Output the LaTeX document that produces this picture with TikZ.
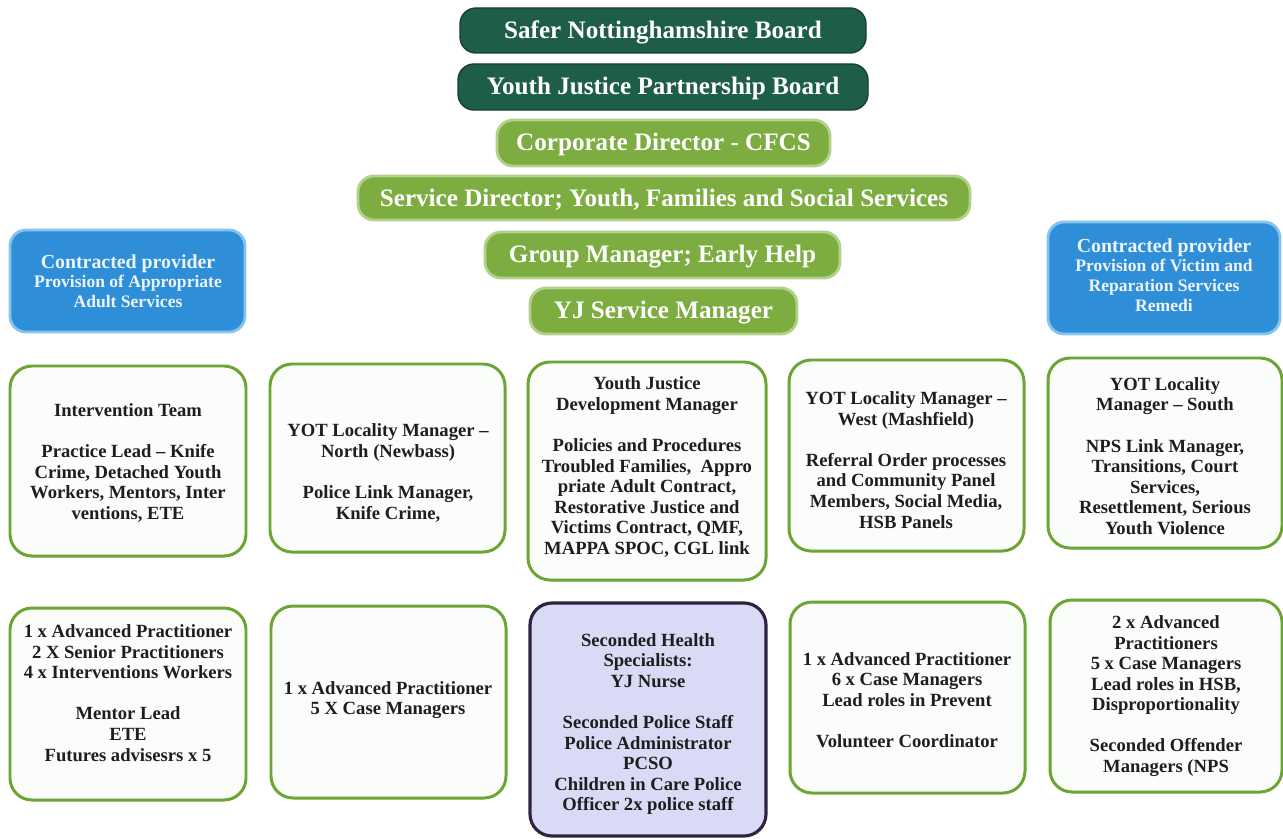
\documentclass[tikz,border=0pt]{standalone}
\usepackage{fontspec}
\setmainfont{Liberation Serif}
\usetikzlibrary{fit}
\definecolor{dkgreen}{HTML}{1E5E46}
\definecolor{dkgreenline}{HTML}{17402F}
\definecolor{ltgreen}{HTML}{7DAD40}
\definecolor{ltgreenhalo}{HTML}{B2D28A}
\definecolor{bluefill}{HTML}{2E8FD8}
\definecolor{bluehalo}{HTML}{86C4EE}
\definecolor{rowline}{HTML}{6BA534}
\definecolor{rowfill}{HTML}{FBFDFA}
\definecolor{lavfill}{HTML}{D9DAF5}
\definecolor{lavline}{HTML}{2E2440}
\definecolor{bluetext}{HTML}{EEF4FF}
\definecolor{bodytext}{HTML}{1E1E1E}
\tikzset{
  topbase/.style={inner sep=0pt, rounded corners=0.32cm},
  darkbox/.style={topbase, fill=dkgreen, draw=dkgreenline, line width=0.8pt},
  lightbox/.style={topbase, fill=ltgreen, draw=ltgreenhalo, line width=1.6pt},
  bluebox/.style={inner sep=0pt, rounded corners=0.32cm, fill=bluefill, draw=bluehalo, line width=1.6pt},
  rowbox/.style={inner sep=0pt, rounded corners=0.44cm, fill=rowfill, draw=rowline, line width=1.7pt},
  lavbox/.style={inner sep=0pt, rounded corners=0.44cm, fill=lavfill, draw=lavline, line width=1.8pt},
  toptxt/.style={inner sep=0pt, text=white, font=\fontsize{14.3}{16}\selectfont\bfseries},
  bluetxt/.style={inner sep=0pt, align=center, text=bluetext, font=\fontsize{10}{11.2}\selectfont\bfseries},
  bodytxt/.style={inner sep=0pt, align=center, text=bodytext, font=\fontsize{10.6}{11.7}\selectfont\bfseries}
}
\newcommand{\bluehead}[1]{{\fontsize{11.3}{11.2}\selectfont #1}}
\begin{document}
\begin{tikzpicture}[x=0.02cm,y=-0.02cm]
\useasboundingbox (0,0) rectangle (1283,838);
\fill[white] (0,0) rectangle (1283,838);

% top stack
\node[darkbox, fit={(460,8) (866,53)}] (b1) {};
\node[toptxt] (t1) at ([yshift=-1pt]b1.center) {Safer Nottinghamshire Board};
\node[darkbox, fit={(458,64) (868,110)}] (b2) {};
\node[toptxt] (t2) at ([yshift=-1pt]b2.center) {Youth Justice Partnership Board};
\node[lightbox, fit={(497,120) (830,166)}] (b3) {};
\node[toptxt] (t3) at ([yshift=-1pt]b3.center) {Corporate Director - CFCS};
\node[lightbox, fit={(358,176) (970,220)}] (b4) {};
\node[toptxt] (t4) at ([yshift=-1pt]b4.center) {Service Director; Youth, Families and Social Services};
\node[lightbox, fit={(485,232) (840,278)}] (b5) {};
\node[toptxt] (t5) at ([yshift=-1pt]b5.center) {Group Manager; Early Help};
\node[lightbox, fit={(530,288) (797,334)}] (b6) {};
\node[toptxt] (t6) at ([yshift=-1pt]b6.center) {YJ Service Manager};

% contracted providers
\node[bluebox, fit={(10,230) (245,332)}] (pl) {};
\node[bluetxt] (tpl) at (128,281) {\bluehead{Contracted provider}\\Provision of Appropriate\\Adult Services};
\node[bluebox, fit={(1048,222) (1280,334)}] (pr) {};
\node[bluetxt] (tpr) at (1164,275) {\bluehead{Contracted provider}\\Provision of Victim and\\Reparation Services\\Remedi};

% row 1
\node[rowbox, fit={(10,366) (246,556)}] (ra) {};
\node[bodytxt] (ta) at (128,463) {Intervention Team\\[11.7pt]Practice Lead -- Knife\\Crime, Detached Youth\\Workers, Mentors, Inter\\ventions, ETE};
\node[rowbox, fit={(270,364) (505,552)}] (rb) {};
\node[bodytxt] (tb) at (388,473) {YOT Locality Manager --\\North (Newbass)\\[11.7pt]Police Link Manager,\\Knife Crime,};
\node[rowbox, fit={(528,362) (766,580)}] (rc) {};
\node[bodytxt] (tc) at (647,467) {Youth Justice\\Development Manager\\[11.7pt]Policies and Procedures\\Troubled Families,\ \ Appro\\priate Adult Contract,\\Restorative Justice and\\Victims Contract, QMF,\\MAPPA SPOC, CGL link};
\node[rowbox, fit={(789,360) (1024,551)}] (rd) {};
\node[bodytxt] (td) at (906,460) {YOT Locality Manager --\\West (Mashfield)\\[11.7pt]Referral Order processes\\and Community Panel\\Members, Social Media,\\HSB Panels};
\node[rowbox, fit={(1048,358) (1282,548)}] (re) {};
\node[bodytxt] (te) at (1165,456) {YOT Locality\\Manager -- South\\[11.7pt]NPS Link Manager,\\Transitions, Court\\Services,\\Resettlement, Serious\\Youth Violence};

% row 2
\node[rowbox, fit={(10,608) (246,800)}] (rf) {};
\node[bodytxt] (tf) at (128,693) {1 x Advanced Practitioner\\2 X Senior Practitioners\\4 x Interventions Workers\\[11.7pt]Mentor Lead\\ETE\\Futures advisesrs x 5};
\node[rowbox, fit={(271,606) (506,798)}] (rg) {};
\node[bodytxt] (tg) at (388,700) {1 x Advanced Practitioner\\5 X Case Managers};
\node[lavbox, fit={(530,603) (766,836)}] (rh) {};
\node[bodytxt] (th) at (648,724) {Seconded Health\\Specialists:\\YJ Nurse\\[11.7pt]Seconded Police Staff\\Police Administrator\\PCSO\\Children in Care Police\\Officer 2x police staff};
\node[rowbox, fit={(790,602) (1025,793)}] (ri) {};
\node[bodytxt] (ti) at (907,700) {1 x Advanced Practitioner\\6 x Case Managers\\Lead roles in Prevent\\[11.7pt]Volunteer Coordinator};
\node[rowbox, fit={(1050,600) (1282,792)}] (rj) {};
\node[bodytxt] (tj) at (1166,696) {2 x Advanced\\Practitioners\\5 x Case Managers\\Lead roles in HSB,\\Disproportionality\\[11.7pt]Seconded Offender\\Managers (NPS};
\end{tikzpicture}
\end{document}
